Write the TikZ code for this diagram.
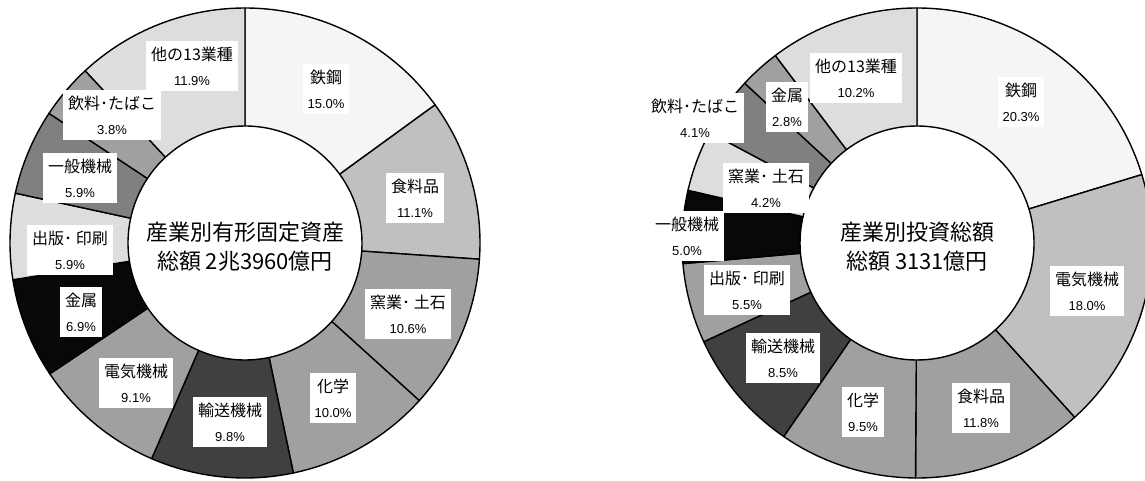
\documentclass[tikz,border=0pt]{standalone}
\usepackage{fontspec}
\newfontfamily\jp{Noto Sans CJK JP}
\newfontfamily\ar{Liberation Sans}
\usepackage{tikz}
\definecolor{gA}{HTML}{F5F5F5}
\definecolor{gB}{HTML}{C0C0C0}
\definecolor{gC}{HTML}{A0A0A0}
\definecolor{gD}{HTML}{404040}
\definecolor{gE}{HTML}{080808}
\definecolor{gF}{HTML}{DDDDDD}
\definecolor{gG}{HTML}{808080}
\newcommand{\pct}[1]{{\ar\fontsize{13}{25}\selectfont #1\%}}

\begin{document}
\begin{tikzpicture}[x=1pt,y=1pt,
  sector/.style={draw=black,line width=1.4pt,line join=round},
  etiqueta/.style={fill=white,inner xsep=5pt,inner ysep=6pt,align=center,font=\jp\fontsize{16}{25}\selectfont},
  titulo/.style={align=center,font=\jp\fontsize{22}{29}\selectfont}]
\useasboundingbox (0,0) rectangle (1145,480);
% Anillo izquierdo
\begin{scope}[shift={(245,237)}]
\foreach \a/\b/\c in {0/15.0/gA,15.0/26.1/gB,26.1/36.7/gC,36.7/46.7/gC,46.7/56.5/gD,56.5/65.6/gC,65.6/72.5/gE,72.5/78.4/gF,78.4/84.3/gG,84.3/88.1/gC,88.1/100/gF}
  \filldraw[sector,fill=\c] ({90-3.6*\a}:235pt) arc[start angle={90-3.6*\a},end angle={90-3.6*\b},radius=235pt] -- ({90-3.6*\b}:117pt) arc[start angle={90-3.6*\b},end angle={90-3.6*\a},radius=117pt] -- cycle;
\end{scope}
% Anillo derecho
\begin{scope}[shift={(917,237)}]
\foreach \a/\b/\c in {0/20.3/gA,20.3/38.3/gB,38.3/50.1/gC,50.1/59.6/gC,59.6/68.1/gD,68.1/73.6/gC,73.6/78.6/gE,78.6/82.8/gF,82.8/86.9/gG,86.9/89.7/gC,89.7/100/gF}
  \filldraw[sector,fill=\c] ({90-3.6*\a}:235pt) arc[start angle={90-3.6*\a},end angle={90-3.6*\b},radius=235pt] -- ({90-3.6*\b}:117pt) arc[start angle={90-3.6*\b},end angle={90-3.6*\a},radius=117pt] -- cycle;
\end{scope}
% Etiquetas izquierda
\node[etiqueta] (izqTekko) at (326,391) {鉄鋼\\\pct{15.0}};
\node[etiqueta] (izqShokuryo) at (415,282) {食料品\\\pct{11.1}};
\node[etiqueta] (izqYogyo) at (408,166) {窯業･ 土石\\\pct{10.6}};
\node[etiqueta] (izqKagaku) at (333,82) {化学\\\pct{10.0}};
\node[etiqueta] (izqYuso) at (230,58) {輸送機械\\\pct{9.8}};
\node[etiqueta] (izqDenki) at (136,97) {電気機械\\\pct{9.1}};
\node[etiqueta] (izqKinzoku) at (81,168) {金属\\\pct{6.9}};
\node[etiqueta] (izqShuppan) at (70,230) {出版･ 印刷\\\pct{5.9}};
\node[etiqueta] (izqIppan) at (80,302) {一般機械\\\pct{5.9}};
\node[etiqueta] (izqInryo) at (112,365) {飲料･たばこ\\\pct{3.8}};
\node[etiqueta] (izqSonota) at (192,414) {他の13業種\\\pct{11.9}};
% Titulo izquierdo
\node[titulo] (izqTitulo) at (245,233) {産業別有形固定資産\\総額 2兆3960億円};
% Etiquetas derecha
\node[etiqueta] (derTekko) at (1021,378) {鉄鋼\\\pct{20.3}};
\node[etiqueta] (derDenki) at (1087,189) {電気機械\\\pct{18.0}};
\node[etiqueta] (derShokuryo) at (981,72) {食料品\\\pct{11.8}};
\node[etiqueta] (derKagaku) at (863,68) {化学\\\pct{9.5}};
\node[etiqueta] (derYuso) at (783,122) {輸送機械\\\pct{8.5}};
\node[etiqueta] (derShuppan) at (747,190) {出版･ 印刷\\\pct{5.5}};
\node[etiqueta] (derIppan) at (687,244) {一般機械\\\pct{5.0}};
\node[etiqueta] (derYogyo) at (766,292) {窯業･ 土石\\\pct{4.2}};
\node[etiqueta] (derInryo) at (695,362) {飲料･たばこ\\\pct{4.1}};
\node[etiqueta] (derKinzoku) at (787,373) {金属\\\pct{2.8}};
\node[etiqueta] (derSonota) at (856,402) {他の13業種\\\pct{10.2}};
% Titulo derecho
\node[titulo] (derTitulo) at (917,233) {産業別投資総額\\総額 3131億円};
\end{tikzpicture}
\end{document}
